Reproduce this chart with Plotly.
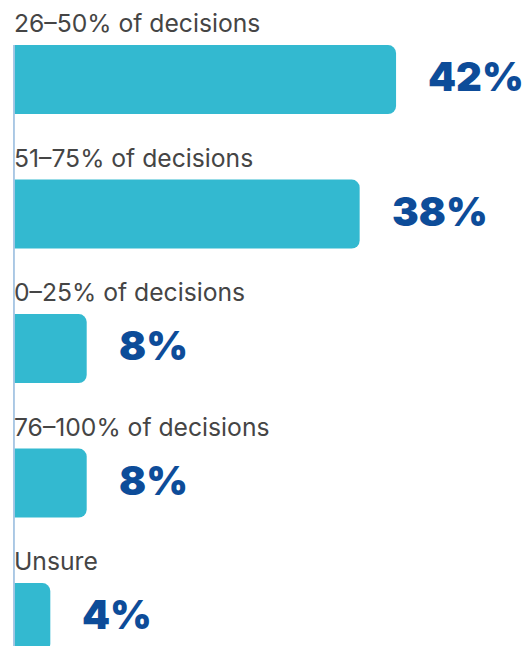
import plotly.graph_objects as go

categories = ["26–50% of decisions", "51–75% of decisions", "0–25% of decisions",
              "76–100% of decisions", "Unsure"]
shares = [42, 38, 8, 8, 4]
value_labels = ["42%", "38%", "8%", "8%", "4%"]

bar_width = 0.513
positions = list(range(len(categories)))

fig = go.Figure()

fig.add_trace(go.Bar(
    x=shares,
    y=positions,
    orientation="h",
    width=bar_width,
    marker=dict(color="#33b9d0", cornerradius=8, line=dict(width=0)),
    hoverinfo="skip",
))

# category label above each bar, value label to the right
for pos, cat, val, lab in zip(positions, categories, shares, value_labels):
    fig.add_annotation(
        x=0, y=pos - bar_width / 2, xref="x", yref="y",
        text=cat, showarrow=False, xanchor="left", yanchor="bottom",
        xshift=-2, yshift=5,
        font=dict(family="Inter", size=24.7, color="#454545"),
    )
    fig.add_annotation(
        x=val, y=pos, xref="x", yref="y",
        text=lab, showarrow=False, xanchor="left", yanchor="middle",
        xshift=30, yshift=3,
        font=dict(family="Inter", size=40, color="#0d4c99", weight=900),
    )

# thin axis line at the left
fig.add_shape(
    type="line", xref="x", yref="y",
    x0=0, x1=0, y0=-bar_width / 2, y1=4.4,
    line=dict(color="#a9c7e4", width=2),
)

fig.update_layout(
    width=530, height=646,
    margin=dict(l=5, r=0, t=0, b=0),
    paper_bgcolor="white", plot_bgcolor="white",
    showlegend=False,
    xaxis=dict(range=[-0.1, 57.6], visible=False, fixedrange=True),
    yaxis=dict(range=[4.271, -0.532], visible=False, fixedrange=True),
)

fig.write_html("out.html")
